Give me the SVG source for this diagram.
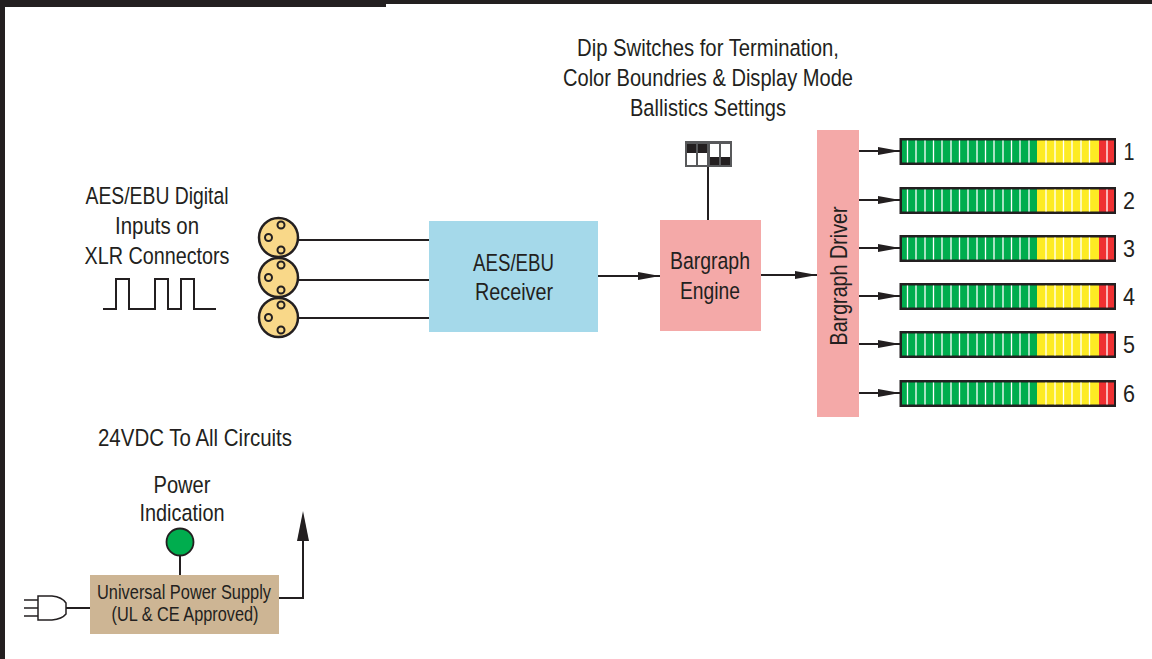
<svg xmlns="http://www.w3.org/2000/svg" xmlns:xlink="http://www.w3.org/1999/xlink" width="1152" height="659" viewBox="0 0 1152 659">
<style>
text{font-family:"Liberation Sans",Arial,sans-serif;font-size:24.500px;fill:#231f20}
.s{font-size:21px}
.l{fill:none;stroke:#231f20;stroke-width:2}
.x{fill:#f9d889;stroke:#231f20;stroke-width:2.500}
.p{fill:none;stroke:#231f20;stroke-width:1.500}
.sep{stroke:#fff;stroke-width:1.300}
</style>
<defs>
<marker id="a" markerUnits="userSpaceOnUse" markerWidth="24" markerHeight="12" refX="22" refY="5" orient="auto"><path d="M0 1L22 5L0 9Z" fill="#231f20"/></marker>
<g id="bar">
<rect x="899.500" y="0" width="216.500" height="27" fill="#231f20"/>
<rect x="902" y="2.500" width="135" height="22" fill="#00ad4e"/>
<rect x="1037" y="2.500" width="62" height="22" fill="#fdeb24"/>
<rect x="1099" y="2.500" width="15" height="22" fill="#ef3032"/>
<path class="sep" d="M907.500 2.500v22M916 2.500v22M925 2.500v22M933.500 2.500v22M942 2.500v22M951 2.500v22M959.500 2.500v22M968 2.500v22M977 2.500v22M985.500 2.500v22M994 2.500v22M1003 2.500v22M1011.500 2.500v22M1020 2.500v22M1029 2.500v22M1046 2.500v22M1055 2.500v22M1063.500 2.500v22M1072 2.500v22M1081 2.500v22M1089.500 2.500v22M1107 2.500v22"/>
</g>
<g id="xlr"><circle r="19.500" class="x"/><circle cx="2.500" cy="-12.500" r="3.500" class="x" style="stroke-width:2"/><circle cx="-10" cy="0" r="3.500" class="x" style="stroke-width:2"/><circle cx="2.500" cy="12.500" r="3.500" class="x" style="stroke-width:2"/></g>
</defs>
<rect width="1152" height="659" fill="#fff"/>
<g id="frame"><rect x="0" y="0" width="386" height="7" fill="#231f20"/><rect x="386" y="0" width="766" height="4" fill="#231f20"/><rect x="0" y="0" width="5" height="659" fill="#231f20"/></g>
<g id="connectors">
<path class="l" d="M298 240H430M298 280H430M298 318H430"/>
<path class="l" d="M598 276H660" marker-end="url(#a)"/>
<path class="l" d="M761 275H817" marker-end="url(#a)"/>
<path class="l" d="M708 166V220"/>
<path class="l" d="M859 151H900" marker-end="url(#a)"/>
<path class="l" d="M859 200H900" marker-end="url(#a)"/>
<path class="l" d="M859 248H900" marker-end="url(#a)"/>
<path class="l" d="M859 296H900" marker-end="url(#a)"/>
<path class="l" d="M859 344H900" marker-end="url(#a)"/>
<path class="l" d="M859 393H900" marker-end="url(#a)"/>
<path class="l" d="M180 556V575M66 608H90M279 598H303V530"/>
<path d="M297 541L303 511L309 541Z" fill="#231f20"/>
</g>
<g id="xlr-inputs"><text x="157" y="203.500" text-anchor="middle" textLength="143" lengthAdjust="spacingAndGlyphs">AES/EBU Digital</text><text x="157" y="233.500" text-anchor="middle" textLength="84" lengthAdjust="spacingAndGlyphs">Inputs on</text><text x="157" y="263.500" text-anchor="middle" textLength="145" lengthAdjust="spacingAndGlyphs">XLR Connectors</text>
<path class="l" d="M103 309H116V279H129V309H155V279H168V309H181V279H194V309H216"/>
<use xlink:href="#xlr" href="#xlr" x="278.500" y="237.500"/><use xlink:href="#xlr" href="#xlr" x="278.500" y="277.500"/><use xlink:href="#xlr" href="#xlr" x="278.500" y="317.500"/></g>
<g id="receiver"><rect x="429" y="221" width="169" height="111" fill="#a5d9ea"/><text x="513.500" y="270.500" text-anchor="middle" textLength="81" lengthAdjust="spacingAndGlyphs">AES/EBU</text><text x="514" y="299.500" text-anchor="middle" textLength="78" lengthAdjust="spacingAndGlyphs">Receiver</text></g>
<g id="engine"><rect x="660" y="220" width="101" height="111" fill="#f4a9a8"/><text x="710" y="268.500" text-anchor="middle" textLength="80" lengthAdjust="spacingAndGlyphs">Bargraph</text><text x="710" y="298.500" text-anchor="middle" textLength="60" lengthAdjust="spacingAndGlyphs">Engine</text></g>
<g id="driver"><rect x="817" y="130" width="42" height="287" fill="#f4a9a8"/><text transform="translate(846.500 276) rotate(-90)" text-anchor="middle" textLength="139" lengthAdjust="spacingAndGlyphs">Bargraph Driver</text></g>
<g id="dip"><text x="708" y="55.500" text-anchor="middle" textLength="262" lengthAdjust="spacingAndGlyphs">Dip Switches for Termination,</text><text x="708" y="85.500" text-anchor="middle" textLength="290" lengthAdjust="spacingAndGlyphs">Color Boundries &amp; Display Mode</text><text x="708" y="115.500" text-anchor="middle" textLength="156" lengthAdjust="spacingAndGlyphs">Ballistics Settings</text>
<rect x="685" y="141" width="47" height="26" fill="#58595b"/>
<rect x="687" y="144" width="9" height="21" fill="#fff"/><rect x="698" y="144" width="9" height="21" fill="#fff"/><rect x="710" y="144" width="9" height="21" fill="#fff"/><rect x="721" y="144" width="9" height="21" fill="#fff"/>
<rect x="687" y="144" width="9" height="9" fill="#231f20"/><rect x="698" y="144" width="9" height="9" fill="#231f20"/><rect x="710" y="157" width="9" height="8" fill="#231f20"/><rect x="721" y="157" width="9" height="8" fill="#231f20"/></g>
<g id="meter-1"><use xlink:href="#bar" href="#bar" y="138"/><text x="1129" y="159.500" text-anchor="middle" textLength="11" lengthAdjust="spacingAndGlyphs">1</text></g>
<g id="meter-2"><use xlink:href="#bar" href="#bar" y="187"/><text x="1129" y="208.500" text-anchor="middle" textLength="12" lengthAdjust="spacingAndGlyphs">2</text></g>
<g id="meter-3"><use xlink:href="#bar" href="#bar" y="235"/><text x="1129" y="257" text-anchor="middle" textLength="12" lengthAdjust="spacingAndGlyphs">3</text></g>
<g id="meter-4"><use xlink:href="#bar" href="#bar" y="283"/><text x="1129" y="305" text-anchor="middle" textLength="12" lengthAdjust="spacingAndGlyphs">4</text></g>
<g id="meter-5"><use xlink:href="#bar" href="#bar" y="331"/><text x="1129" y="353" text-anchor="middle" textLength="12" lengthAdjust="spacingAndGlyphs">5</text></g>
<g id="meter-6"><use xlink:href="#bar" href="#bar" y="380"/><text x="1129" y="402" text-anchor="middle" textLength="12" lengthAdjust="spacingAndGlyphs">6</text></g>
<g id="power"><text x="195" y="445.500" text-anchor="middle" textLength="194" lengthAdjust="spacingAndGlyphs">24VDC To All Circuits</text><text x="182" y="492.500" text-anchor="middle" textLength="57" lengthAdjust="spacingAndGlyphs">Power</text><text x="182" y="520.500" text-anchor="middle" textLength="85" lengthAdjust="spacingAndGlyphs">Indication</text>
<circle cx="180" cy="542" r="13.500" fill="#00ad4e" stroke="#231f20" stroke-width="1.800"/>
<rect x="90" y="575" width="189" height="59" fill="#cdb594"/>
<text class="s" x="184" y="598.500" text-anchor="middle" textLength="174" lengthAdjust="spacingAndGlyphs">Universal Power Supply</text><text class="s" x="185" y="620.500" text-anchor="middle" textLength="147" lengthAdjust="spacingAndGlyphs">(UL &amp; CE Approved)</text>
<path class="p" d="M24 600H38M24 608H38M24 616H38M38 596H52Q62 597 66 603V614Q62 619 52 620H38Z"/></g>
</svg>
